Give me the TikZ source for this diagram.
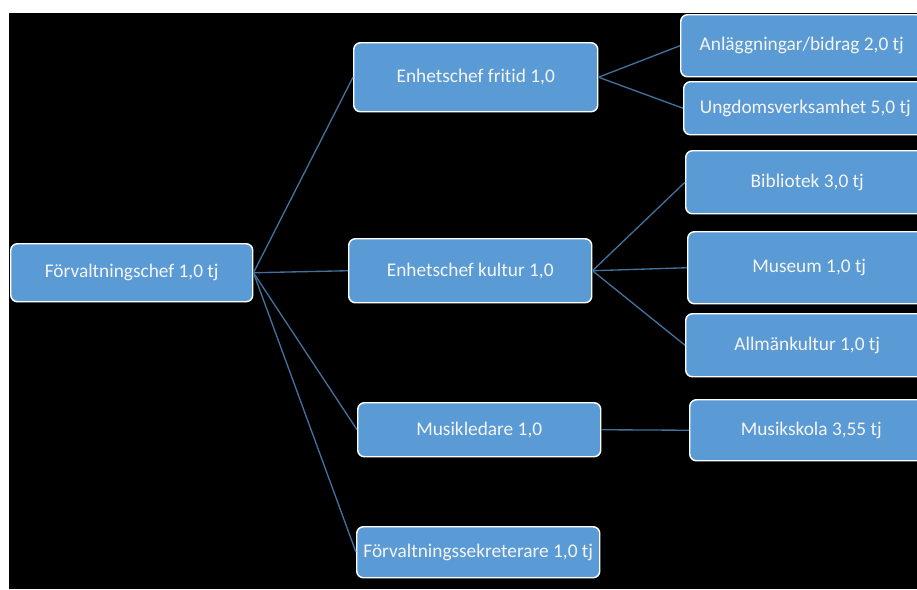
\documentclass[tikz,border=0pt]{standalone}
\usepackage{fontspec}
\setmainfont{Carlito}[Ligatures={NoCommon}]
\definecolor{boxblue}{HTML}{5B9BD5}
\definecolor{linkblue}{HTML}{41719C}
\begin{document}
\begin{tikzpicture}[x=0.75pt,y=-0.75pt,
  box/.style={draw=white, line width=1.1pt, fill=boxblue, rounded corners=5pt,
    text=white!96!black, font=\fontsize{14.5}{17}\selectfont, inner sep=0pt,
    anchor=north west, minimum width=243*0.75pt},
  link/.style={draw=linkblue, line width=1pt}]
\clip (0,0) rectangle (917,589);
\fill[white] (0,0) rectangle (917,589);
\fill[black] (9,13) rectangle (917,589);
\node[box, minimum width=242*0.75pt, minimum height=58*0.75pt] (A) at (10,243) {Förvaltningschef 1,0 tj};
\node[box, minimum width=244*0.75pt, minimum height=69*0.75pt] (B) at (353,42) {Enhetschef fritid 1,0};
\node[box, minimum height=64*0.75pt] (C) at (348,238) {Enhetschef kultur 1,0};
\node[box, minimum height=54*0.75pt] (D) at (357,402) {Musikledare 1,0};
\node[box, minimum height=51*0.75pt] (E) at (356,526) {Förvaltningssekreterare 1,0 tj};
\node[box, minimum width=242*0.75pt, minimum height=62*0.75pt] (F) at (680,14) {Anläggningar/bidrag 2,0 tj};
\node[box, minimum height=53*0.75pt] (G) at (683,81) {Ungdomsverksamhet 5,0 tj};
\node[box, minimum height=63*0.75pt] (H) at (685,150) {Bibliotek 3,0 tj};
\node[box, minimum height=72*0.75pt] (I) at (687,231) {Museum 1,0 tj};
\node[box, minimum height=63*0.75pt] (J) at (685,313) {Allmänkultur 1,0 tj};
\node[box, minimum height=61*0.75pt] (K) at (689,399) {Musikskola 3,55 tj};
\draw[link] (A.east) -- (B.west);
\draw[link] (A.east) -- (C.west);
\draw[link] (A.east) -- (D.west);
\draw[link] (A.east) -- (E.west);
\draw[link] (B.east) -- (F.west);
\draw[link] (B.east) -- (G.west);
\draw[link] (C.east) -- (H.west);
\draw[link] (C.east) -- (I.west);
\draw[link] (C.east) -- (J.west);
\draw[link] (D.east) -- (K.west);
\end{tikzpicture}
\end{document}
